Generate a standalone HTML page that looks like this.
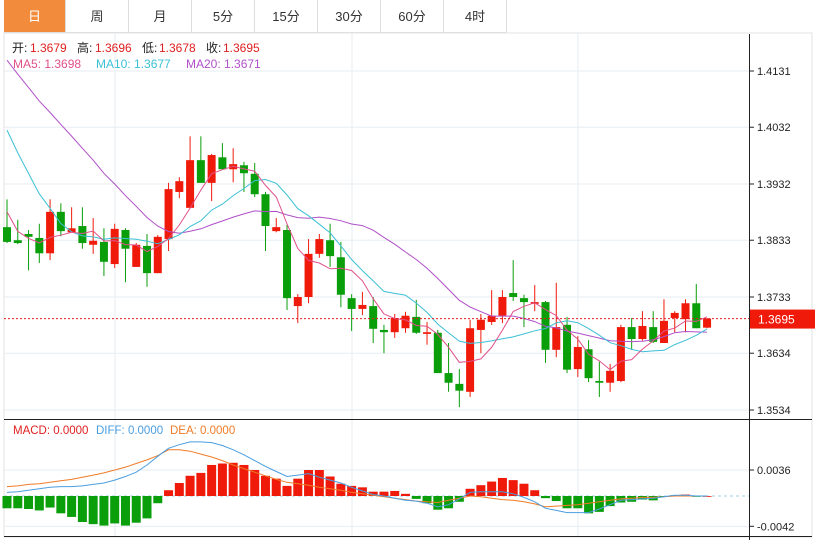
<!DOCTYPE html>
<html><head><meta charset="utf-8">
<style>
body{margin:0;background:#fff;font-family:"Liberation Sans","Noto Sans CJK SC",sans-serif;}
#wrap{position:relative;width:820px;height:540px;overflow:hidden;}
.tab{position:absolute;top:0;height:33px;line-height:33px;text-align:center;font-size:13px;color:#333;border-right:1px solid #ddd;border-bottom:1px solid #ddd;box-sizing:border-box;background:#fff;}
.tab.on{background:#f28c3c;color:#fff;}
svg{position:absolute;left:0;top:0;}
</style></head><body>
<div id="wrap">
<div class="tab on" style="left:4px;width:62px">日</div>
<div class="tab" style="left:66px;width:63px">周</div>
<div class="tab" style="left:129px;width:63px">月</div>
<div class="tab" style="left:192px;width:63px">5分</div>
<div class="tab" style="left:255px;width:63px">15分</div>
<div class="tab" style="left:318px;width:63px">30分</div>
<div class="tab" style="left:381px;width:63px">60分</div>
<div class="tab" style="left:444px;width:63px">4时</div>
<svg id="chart" width="820" height="540" xmlns="http://www.w3.org/2000/svg"></svg>
</div>
<script>
const opens=[1.3856,1.3833,1.3844,1.3837,1.3810,1.3883,1.3847,1.3858,1.3825,1.3830,1.3791,1.3851,1.3786,1.3823,1.3775,1.3835,1.3918,1.3890,1.3974,1.3934,1.3979,1.3958,1.3965,1.3950,1.3914,1.3849,1.3851,1.3717,1.3733,1.3809,1.3833,1.3803,1.3731,1.3712,1.3717,1.3675,1.3671,1.3678,1.3698,1.3668,1.3670,1.3599,1.3580,1.3566,1.3675,1.3689,1.3700,1.3740,1.3731,1.3721,1.3724,1.3640,1.3684,1.3606,1.3641,1.3585,1.3582,1.3585,1.3680,1.3659,1.3680,1.3652,1.3696,1.3694,1.3722,1.3679];
const closes=[1.3830,1.3828,1.3839,1.3810,1.3883,1.3849,1.3854,1.3828,1.3832,1.3795,1.3853,1.3818,1.3825,1.3775,1.3839,1.3923,1.3937,1.3974,1.3934,1.3983,1.3958,1.3967,1.3951,1.3914,1.3858,1.3856,1.3731,1.3733,1.3809,1.3835,1.3805,1.3737,1.3712,1.3719,1.3677,1.3671,1.3696,1.3700,1.3670,1.3671,1.3599,1.3582,1.3568,1.3678,1.3693,1.3700,1.3733,1.3733,1.3724,1.3724,1.3640,1.3680,1.3605,1.3645,1.3590,1.3582,1.3603,1.3680,1.3659,1.3682,1.3654,1.3691,1.3705,1.3722,1.3678,1.3695];
const highs=[1.3905,1.3869,1.3851,1.3862,1.3905,1.3898,1.3891,1.3891,1.3872,1.3854,1.3862,1.3854,1.3828,1.3844,1.3842,1.3934,1.3944,1.4016,1.4016,1.3985,1.4004,1.3995,1.3971,1.3969,1.3918,1.3872,1.3860,1.3738,1.3835,1.3844,1.3862,1.3830,1.3738,1.3742,1.3733,1.3684,1.3703,1.3707,1.3728,1.3689,1.3675,1.3652,1.3606,1.3693,1.3703,1.3745,1.3745,1.3798,1.3737,1.3754,1.3726,1.3758,1.3698,1.3664,1.3657,1.3619,1.3615,1.3684,1.3696,1.3708,1.3708,1.3729,1.3708,1.3729,1.3756,1.3696];
const lows=[1.3828,1.3826,1.3780,1.3793,1.3798,1.3840,1.3847,1.3818,1.3809,1.3770,1.3784,1.3759,1.3786,1.3751,1.3775,1.3814,1.3907,1.3890,1.3934,1.3902,1.3958,1.3935,1.3918,1.3909,1.3814,1.3847,1.3710,1.3687,1.3722,1.3802,1.3786,1.3715,1.3673,1.3701,1.3652,1.3634,1.3661,1.3670,1.3668,1.3649,1.3599,1.3566,1.3539,1.3557,1.3634,1.3684,1.3687,1.3726,1.3680,1.3708,1.3617,1.3627,1.3599,1.3592,1.3583,1.3557,1.3566,1.3583,1.3640,1.3656,1.3652,1.3652,1.3671,1.3671,1.3678,1.3678];
const priorCloses=[1.4320,1.4305,1.4290,1.4285,1.4270,1.4265,1.4260,1.4250,1.4255,1.4230,1.4230,1.4200,1.4170,1.4140,1.4115,1.4000,1.3900,1.3850,1.3835];
const priceTicks=[1.4131,1.4032,1.3932,1.3833,1.3733,1.3634,1.3534];
const macdHist=[-0.0017,-0.0017,-0.0018,-0.0020,-0.0016,-0.0024,-0.0029,-0.0036,-0.0039,-0.0041,-0.0038,-0.0041,-0.0037,-0.0031,-0.0010,0.0008,0.0018,0.0028,0.0032,0.0043,0.0045,0.0046,0.0043,0.0036,0.0028,0.0024,0.0014,0.0024,0.0036,0.0036,0.0027,0.0017,0.0014,0.0012,0.0006,0.0006,0.0007,0.0003,-0.0004,-0.0010,-0.0019,-0.0017,-0.0008,0.0010,0.0015,0.0020,0.0025,0.0022,0.0017,0.0008,-0.0003,-0.0007,-0.0017,-0.0017,-0.0024,-0.0022,-0.0014,-0.0009,-0.0008,-0.0005,-0.0006,-0.0001,0.0001,0.0002,-0.0001,0.0000];
const diffVals=[0.0005,0.0006,0.0008,0.0010,0.0012,0.0013,0.0013,0.0014,0.0016,0.0018,0.0022,0.0027,0.0033,0.0043,0.0055,0.0066,0.0071,0.0075,0.0075,0.0074,0.0070,0.0064,0.0057,0.0049,0.0041,0.0034,0.0027,0.0029,0.0031,0.0026,0.0022,0.0018,0.0012,0.0007,0.0002,0.0000,-0.0003,-0.0006,-0.0007,-0.0010,-0.0015,-0.0012,-0.0004,0.0005,0.0006,0.0006,0.0006,0.0003,-0.0002,-0.0008,-0.0017,-0.0020,-0.0023,-0.0023,-0.0023,-0.0018,-0.0012,-0.0006,-0.0005,-0.0004,-0.0003,-0.0001,0.0001,0.0001,0.0000,0.0000];
const deaVals=[0.0013,0.0014,0.0016,0.0017,0.0019,0.0021,0.0023,0.0026,0.0029,0.0032,0.0036,0.0040,0.0045,0.0050,0.0056,0.0064,0.0064,0.0062,0.0058,0.0054,0.0049,0.0043,0.0038,0.0033,0.0028,0.0023,0.0019,0.0017,0.0015,0.0012,0.0010,0.0008,0.0005,0.0003,0.0001,-0.0001,-0.0003,-0.0005,-0.0007,-0.0008,-0.0009,-0.0006,-0.0003,0.0000,-0.0001,-0.0003,-0.0005,-0.0006,-0.0008,-0.0011,-0.0015,-0.0014,-0.0013,-0.0012,-0.0010,-0.0008,-0.0006,-0.0004,-0.0003,-0.0002,-0.0002,-0.0001,0.0000,0.0000,0.0000,0.0000];
const macdTicks=[0.0036,-0.0042];
const lastPrice=1.3695;

const NS="http://www.w3.org/2000/svg";
const svg=document.getElementById('chart');
const RED="#f01a0a",GREEN="#0a9e0a";
const xOf=i=>7+i*10.77;
const yP=p=>297+(1.3733-p)*5678;
const yM=v=>496-v*7220;
function mk(tag,attrs,parent){const e=document.createElementNS(NS,tag);for(const k in attrs)e.setAttribute(k,attrs[k]);(parent||svg).appendChild(e);return e;}

const grid=mk('g',{});


mk('rect',{x:4,y:33,width:808,height:504,fill:'none',stroke:'#e3e3e3'},grid);
priceTicks.forEach(t=>{mk('line',{x1:4,x2:749,y1:yP(t),y2:yP(t),stroke:'#e6edf2'},grid);});
macdTicks.forEach(t=>{mk('line',{x1:4,x2:749,y1:yM(t),y2:yM(t),stroke:'#e6edf2'},grid);});
[115,352,578].forEach(x=>{mk('line',{x1:x,x2:x,y1:33,y2:537,stroke:'#e6edf2'},grid);});
mk('line',{x1:749.5,x2:749.5,y1:34,y2:540,stroke:'#222'},grid);
mk('line',{x1:4,x2:812,y1:419.5,y2:419.5,stroke:'#222'},grid);
mk('line',{x1:4,x2:812,y1:536.5,y2:536.5,stroke:'#222'},grid);

priceTicks.forEach(t=>{
  mk('line',{x1:749,x2:754,y1:yP(t),y2:yP(t),stroke:'#222'});
  const tx=mk('text',{x:757,y:yP(t)+4,'font-size':11,fill:'#222'});
  tx.textContent=t.toFixed(4);
  
  
});
macdTicks.forEach(t=>{
  mk('line',{x1:749,x2:754,y1:yM(t),y2:yM(t),stroke:'#222'});
  const tx=mk('text',{x:757,y:yM(t)+4,'font-size':11,fill:'#222'});
  tx.textContent=t.toFixed(4);
  
  
});

opens.forEach((o,i)=>{
  const c=closes[i],up=c>=o,col=up?RED:GREEN,x=xOf(i);
  const g=mk('g',{});
  
  
  mk('line',{x1:x,x2:x,y1:yP(highs[i]),y2:yP(lows[i]),stroke:col,'stroke-width':1},g);
  const top=yP(Math.max(o,c)),bot=yP(Math.min(o,c));
  mk('rect',{x:x-4,y:top,width:8,height:Math.max(1.5,bot-top),fill:col},g);
});

const all=priorCloses.concat(closes);
function ma(n){return closes.map((_,i)=>{const j=i+priorCloses.length;let s=0;for(let k=j-n+1;k<=j;k++)s+=all[k];return s/n;});}
function line(vals,yf,col,name){
  const d=vals.map((v,i)=>(i?'L':'M')+xOf(i).toFixed(1)+' '+yf(v).toFixed(1)).join(' ');
  const p=mk('path',{d:d,fill:'none',stroke:col,'stroke-width':1});
  
  
}
line(ma(20),yP,'#b050c8','ma20-line');
line(ma(10),yP,'#3cc0d6','ma10-line');
line(ma(5),yP,'#e0508a','ma5-line');

const lp=mk('line',{x1:4,x2:749,y1:yP(lastPrice),y2:yP(lastPrice),stroke:'#e02020','stroke-dasharray':'2,2'});


const lb=mk('rect',{x:750,y:yP(lastPrice)-9,width:65,height:19,fill:'#f01a0a'});


const lt=mk('text',{x:758,y:yP(lastPrice)+5,'font-size':12,fill:'#fff'});
lt.textContent=lastPrice.toFixed(4);

mk('line',{x1:4,x2:749,y1:yM(0),y2:yM(0),stroke:'#9cd0ea','stroke-dasharray':'3,3'});
macdHist.forEach((v,i)=>{
  const x=xOf(i),y0=yM(0),y1=yM(v);
  const r=mk('rect',{x:x-4.5,y:Math.min(y0,y1),width:9,height:Math.max(0.8,Math.abs(y1-y0)),fill:v>=0?RED:GREEN});
  
  
});
line(deaVals,yM,'#f07c28','dea-line');
line(diffVals,yM,'#4a9ee0','diff-line');

function txt(x,y,s,col,name,fs){const t=mk('text',{x:x,y:y,'font-size':fs||12,fill:col});t.textContent=s;return t;}
const leg=[["开:",12,'#222'],["1.3679",30,'#e02020'],["高:",77,'#222'],["1.3696",95,'#e02020'],["低:",142,'#222'],["1.3678",159,'#e02020'],["收:",206,'#222'],["1.3695",223,'#e02020']];
leg.forEach(l=>txt(l[1],52,l[0],l[2],'ohlc-legend'));
txt(13,68,'MA5: 1.3698','#e0508a','ma5-legend');
txt(96,68,'MA10: 1.3677','#3cc0d6','ma10-legend');
txt(186,68,'MA20: 1.3671','#b050c8','ma20-legend');
txt(13,434,'MACD: 0.0000','#e02020','macd-legend',11.5);
txt(96,434,'DIFF: 0.0000','#4a9ee0','diff-legend',11.5);
txt(170,434,'DEA: 0.0000','#f07c28','dea-legend',11.5);
</script>
</body></html>
